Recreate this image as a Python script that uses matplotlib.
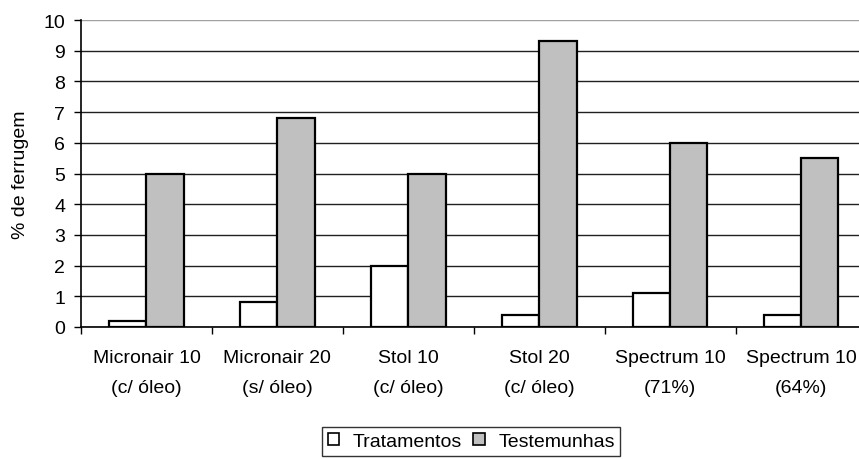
import numpy as np
import matplotlib
matplotlib.use('Agg')
import matplotlib.pyplot as plt
from matplotlib.patches import Patch

plt.rcParams['font.family'] = ['Liberation Sans', 'DejaVu Sans']

# Rust severity per treatment
categories = ['Micronair 10\n(c/ óleo)', 'Micronair 20\n(s/ óleo)', 'Stol 10\n(c/ óleo)',
              'Stol 20\n(c/ óleo)', 'Spectrum 10\n(71%)', 'Spectrum 10\n(64%)']
tratamentos = [0.2, 0.8, 2.0, 0.4, 1.1, 0.4]
testemunhas = [5.0, 6.8, 5.0, 9.3, 6.0, 5.5]
yticks = list(range(0, 11))

fs = 14

fig = plt.figure(figsize=(8.59, 4.60), dpi=100)
# plot area runs a little past the right edge of the figure
ax = fig.add_axes([81 / 859, 132 / 460, 785.4 / 859, 307 / 460])

x = np.arange(len(categories)) + 0.5
w = 1 / 3.5
ax.bar(x - w / 2, tratamentos, w, color='white', edgecolor='black', linewidth=1.6, zorder=3)
ax.bar(x + w / 2, testemunhas, w, color='#c0c0c0', edgecolor='black', linewidth=1.6, zorder=3)

ax.set_xlim(0, len(categories))
ax.set_ylim(0, 10)
ax.set_yticks(yticks)
ax.tick_params(axis='y', labelsize=fs, length=5, width=1, direction='out', pad=6.5)

# boundary ticks between groups, labels centred under each group
ax.set_xticks(np.arange(len(categories) + 1))
ax.set_xticklabels([])
ax.set_xticks(x, minor=True)
ax.set_xticklabels(categories, minor=True, fontsize=fs)
for lab in ax.get_xticklabels(minor=True):
    lab.set_linespacing(2.0)
ax.tick_params(axis='x', which='major', length=5, width=1, direction='out')
ax.tick_params(axis='x', which='minor', length=0, pad=15.5)

ax.yaxis.grid(True, color='#202020', linewidth=1, zorder=0)
ax.get_ygridlines()[-1].set_color('#a0a0a0')
ax.set_axisbelow(True)

for side in ['top', 'right']:
    ax.spines[side].set_visible(False)
for side in ['left', 'bottom']:
    ax.spines[side].set_linewidth(1.2)
    ax.spines[side].set_color('black')

ax.set_ylabel('% de ferrugem', fontsize=fs, labelpad=10)

handles = [Patch(facecolor='white', edgecolor='black', linewidth=1.2, label='Tratamentos'),
           Patch(facecolor='#c0c0c0', edgecolor='black', linewidth=1.2, label='Testemunhas')]
leg = fig.legend(handles=handles, loc='upper left', bbox_to_anchor=(322 / 859, 1 - 428 / 460),
                 ncol=2, fontsize=fs, frameon=True, fancybox=False, handlelength=0.57,
                 handleheight=0.57, handletextpad=0.7, columnspacing=0.6, borderpad=0.3,
                 borderaxespad=0)
leg.get_frame().set_edgecolor('black')
leg.get_frame().set_linewidth(1)

fig.savefig('out.png', dpi=100)
